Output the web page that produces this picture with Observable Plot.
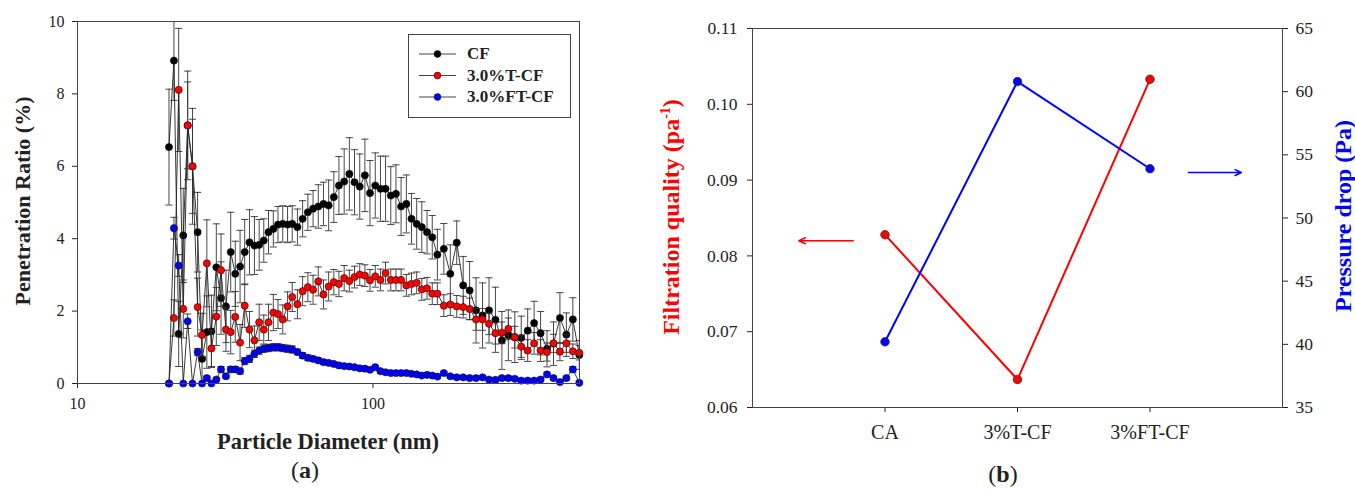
<!DOCTYPE html>
<html>
<head>
<meta charset="utf-8">
<script src="https://cdn.jsdelivr.net/npm/d3@7"></script>
<script src="https://cdn.jsdelivr.net/npm/@observablehq/plot@0.6"></script>
<style>
  body { margin: 0; background: #fff; }
  #wrap { position: relative; width: 1355px; height: 490px; background: #fff; font-family: "Liberation Serif", "Times New Roman", serif; color: #222; overflow: hidden; }
  #wrap svg text { font-family: "Liberation Serif", "Times New Roman", serif !important; font-size: 16px !important; fill: #222; }
  #right1 svg text, #right2 svg text { font-size: 17.5px !important; }
  #right1 g[aria-label="x-axis tick label"] text { font-size: 20px !important; }
  .abs { position: absolute; }
  .lbl { position: absolute; white-space: nowrap; font-weight: bold; font-size: 22px; transform: translate(-50%, -50%); }
  .rot { transform: translate(-50%, -50%) rotate(-90deg); }
  .panel { position: absolute; white-space: nowrap; font-size: 24px; transform: translate(-50%, -50%); }
  #legend { position: absolute; left: 408px; top: 34px; width: 161px; height: 82px; border: 1px solid #444; background: #fff; }
  #legend .row { position: absolute; left: 58px; font-weight: bold; font-size: 17px; transform: translateY(-50%); white-space: nowrap; }
</style>
</head>
<body>
<div id="wrap">
  <div id="left" class="abs" style="left:0;top:0"></div>
  <div id="right1" class="abs" style="left:640px;top:0"></div>
  <div id="right2" class="abs" style="left:640px;top:0"></div>

  <div class="lbl rot" style="left:23px;top:201px">Penetration Ratio (%)</div>
  <div class="lbl" style="left:328px;top:442px;font-size:22.5px">Particle Diameter (nm)</div>
  <div class="panel" style="left:305px;top:470px">(<b>a</b>)</div>

  <div class="lbl rot" style="left:671px;top:217px;color:#ff0000;font-size:24px">Filtration quality (pa<sup style="font-size:14px">-1</sup>)</div>
  <div class="lbl rot" style="left:1343px;top:216px;color:#0000ff;font-size:24px">Pressure drop (Pa)</div>
  <div class="panel" style="left:1003px;top:474px">(<b>b</b>)</div>

  <div id="legend">
    <svg width="161" height="82" style="position:absolute;left:0;top:0">
      <g id="legendMarks"></g>
    </svg>
  </div>
</div>
<script>
// ---- Panel (a): particle penetration vs. mobility diameter ----
const diameter = [
  20.4, 21.2, 22.0, 22.8, 23.6, 24.5, 25.5, 26.4, 27.4, 28.4,
  29.5, 30.6, 31.8, 33.0, 34.2, 35.5, 36.8, 38.2, 39.7, 41.2,
  42.7, 44.3, 46.0, 47.7, 49.5, 51.4, 53.3, 55.5, 57.8, 60.2,
  62.7, 65.3, 68.0, 70.8, 73.7, 76.7, 79.9, 83.2, 86.6, 90.2,
  93.9, 97.7, 101.8, 106.0, 110.3, 114.9, 119.6, 124.5, 129.7, 135.0,
  140.6, 146.3, 152.4, 158.7, 165.2, 173.7, 182.7, 192.1, 202.0, 212.4,
  223.3, 234.9, 247.0, 259.7, 273.1, 287.2, 302.0, 317.5, 333.9, 351.1,
  369.2, 388.2, 408.3, 429.3, 451.4, 474.7, 499.2
];

const cf = [
  6.53, 8.92, 1.37, 4.09, 7.13, 6.00, 4.18, 0.68, 1.42, 1.44,
  3.21, 2.36, 2.13, 3.63, 3.03, 3.23, 3.63, 3.90, 3.81, 3.83,
  3.95, 4.18, 4.27, 4.39, 4.41, 4.39, 4.41, 4.32, 4.55, 4.73,
  4.83, 4.89, 4.96, 4.92, 5.15, 5.47, 5.58, 5.79, 5.56, 5.44,
  5.75, 5.26, 5.47, 5.38, 5.38, 5.19, 5.24, 4.89, 4.96, 4.55,
  4.41, 4.32, 4.18, 4.04, 3.56, 3.72, 3.03, 3.89, 2.71, 2.57,
  2.02, 1.88, 2.02, 1.76, 1.19, 1.33, 1.28, 1.26, 1.46, 1.67,
  1.39, 0.96, 1.10, 1.81, 1.35, 1.77, 0.79
];
const cfErr = [
  1.6, 1.1, 0.9, 1.3, 1.5, 1.3, 1.1, 0.8, 1.0, 1.0,
  1.2, 1.0, 1.0, 1.1, 0.9, 1.0, 0.9, 0.9, 0.8, 0.7,
  0.6, 0.6, 0.5, 0.5, 0.5, 0.5, 0.5, 0.5, 0.5, 0.5,
  0.5, 0.6, 0.6, 0.7, 0.7, 0.8, 0.9, 1.0, 0.9, 0.9,
  1.0, 0.9, 0.9, 0.9, 0.9, 0.8, 0.8, 0.8, 0.8, 0.7,
  0.7, 0.7, 0.6, 0.6, 0.7, 0.7, 0.8, 0.6, 0.8, 0.8,
  0.9, 0.9, 0.9, 0.9, 0.8, 0.7, 0.7, 0.6, 0.6, 0.6,
  0.6, 0.5, 0.6, 0.7, 0.6, 0.6, 0.4
];

const tcf = [
  0.00, 1.81, 8.11, 2.06, 7.13, 6.00, 2.11, 1.34, 3.32, 0.97,
  1.85, 3.13, 1.49, 1.42, 1.84, 1.13, 2.15, 1.49, 1.19, 1.69,
  1.49, 1.69, 1.96, 1.92, 1.77, 2.13, 2.39, 2.19, 2.55, 2.66,
  2.59, 2.82, 2.46, 2.68, 2.80, 2.75, 2.91, 2.83, 2.94, 3.01,
  2.98, 2.85, 2.96, 2.86, 3.05, 2.86, 2.86, 2.86, 2.71, 2.75,
  2.78, 2.60, 2.63, 2.48, 2.48, 2.15, 2.18, 2.13, 2.11, 2.06,
  1.77, 1.77, 1.65, 1.39, 1.40, 1.51, 1.28, 1.02, 0.91, 1.11,
  0.91, 0.87, 1.11, 0.88, 1.11, 0.89, 0.85
];
const tcfErr = [
  0.0, 0.5, 1.7, 0.8, 1.2, 1.6, 0.8, 0.6, 1.2, 0.5,
  0.8, 1.0, 0.6, 0.6, 0.7, 0.5, 0.6, 0.5, 0.4, 0.5,
  0.4, 0.5, 0.5, 0.4, 0.4, 0.4, 0.4, 0.4, 0.4, 0.4,
  0.4, 0.4, 0.4, 0.4, 0.35, 0.35, 0.35, 0.3, 0.3, 0.3,
  0.3, 0.3, 0.3, 0.3, 0.3, 0.3, 0.3, 0.3, 0.3, 0.3,
  0.3, 0.3, 0.3, 0.3, 0.3, 0.3, 0.3, 0.3, 0.3, 0.3,
  0.3, 0.3, 0.3, 0.3, 0.3, 0.3, 0.3, 0.3, 0.3, 0.3,
  0.3, 0.25, 0.25, 0.25, 0.25, 0.2, 0.2
];

const ftcf = [
  0.00, 4.29, 3.26, 0.00, 1.72, 0.00, 0.87, 0.00, 0.15, 0.00,
  0.11, 0.39, 0.20, 0.39, 0.39, 0.34, 0.62, 0.68, 0.82, 0.91,
  0.96, 0.98, 1.00, 1.00, 0.98, 0.96, 0.94, 0.87, 0.77, 0.71,
  0.68, 0.64, 0.59, 0.57, 0.54, 0.50, 0.48, 0.47, 0.45, 0.42,
  0.41, 0.38, 0.45, 0.34, 0.31, 0.29, 0.29, 0.29, 0.29, 0.27,
  0.25, 0.22, 0.24, 0.22, 0.19, 0.29, 0.20, 0.17, 0.17, 0.15,
  0.15, 0.17, 0.11, 0.10, 0.15, 0.15, 0.13, 0.08, 0.08, 0.08,
  0.11, 0.25, 0.15, 0.04, 0.15, 0.39, 0.02
];
const ftcfErr = [
  0.0, 0.3, 0.3, 0.0, 0.2, 0.0, 0.1, 0.0, 0.05, 0.0,
  0.05, 0.08, 0.06, 0.08, 0.08, 0.08, 0.1, 0.1, 0.1, 0.1,
  0.1, 0.1, 0.1, 0.1, 0.1, 0.1, 0.1, 0.08, 0.08, 0.08,
  0.07, 0.07, 0.06, 0.06, 0.06, 0.06, 0.05, 0.05, 0.05, 0.05,
  0.05, 0.05, 0.05, 0.05, 0.05, 0.05, 0.05, 0.05, 0.05, 0.05,
  0.05, 0.05, 0.05, 0.05, 0.05, 0.05, 0.05, 0.05, 0.05, 0.05,
  0.05, 0.05, 0.05, 0.05, 0.05, 0.05, 0.05, 0.05, 0.05, 0.05,
  0.05, 0.06, 0.05, 0.05, 0.05, 0.08, 0.05
];

const seriesNames = ["CF", "3.0%T-CF", "3.0%FT-CF"];
const seriesColors = ["#000000", "#ff0000", "#0000ff"];
const seriesValues = [cf, tcf, ftcf];
const seriesErrors = [cfErr, tcfErr, ftcfErr];

// ---- Panel (b): filtration quality and pressure drop per filter ----
const filters = ["CA", "3%T-CF", "3%FT-CF"];
const quality = [0.0828, 0.0637, 0.1033];   // Pa^-1
const pressure = [40.2, 60.8, 53.9];        // Pa

// arrows pointing to each series' own axis
const qualityArrow = [{x1: 0.76, x2: 0.35, y: 0.0820}];
const pressureArrow = [{x1: 3.29, x2: 3.69, y: 53.6}];

// horizontal cap drawn as a dot symbol for the error bars
const capSymbol = {
  draw(context, size) {
    const w = Math.sqrt(size / Math.PI);
    context.moveTo(-w, 0);
    context.lineTo(w, 0);
  }
};

const axisStyle = {
  fontFamily: "'Liberation Serif', 'Times New Roman', serif",
  fontSize: "16px",
  color: "#222",
  background: "transparent",
  overflow: "visible"
};

// Panel (a)
const seriesMarks = seriesNames.flatMap((name, k) => {
  const rows = diameter.map((d, i) => ({
    d, v: seriesValues[k][i], lo: seriesValues[k][i] - seriesErrors[k][i], hi: seriesValues[k][i] + seriesErrors[k][i]
  }));
  const bars = rows.filter(r => r.hi > r.lo);
  return [
    Plot.ruleX(bars, {x: "d", y1: "lo", y2: "hi", stroke: "#333", strokeWidth: 0.9, clip: true}),
    Plot.dot(bars, {x: "d", y: "hi", symbol: capSymbol, r: 3.6, fill: "none", stroke: "#333", strokeWidth: 0.9, clip: true}),
    Plot.dot(bars, {x: "d", y: "lo", symbol: capSymbol, r: 3.6, fill: "none", stroke: "#333", strokeWidth: 0.9, clip: true}),
    Plot.line(rows, {x: "d", y: "v", stroke: "#222", strokeWidth: 0.9}),
    Plot.dot(rows, {x: "d", y: "v", r: 3.6, fill: seriesColors[k], stroke: "#111", strokeWidth: 0.6})
  ];
});

const left = Plot.plot({
  width: 600,
  height: 420,
  marginLeft: 77,
  marginRight: 21,
  marginTop: 21,
  marginBottom: 37,
  style: axisStyle,
  x: {type: "log", domain: [10, 500], ticks: [10, 100], tickFormat: d => String(d), tickSize: 5, tickPadding: 9, label: null},
  y: {domain: [0, 10], ticks: [0, 2, 4, 6, 8, 10], tickSize: 5, tickPadding: 8, label: null},
  marks: [
    ...seriesMarks,
    Plot.frame({stroke: "#444", strokeWidth: 1})
  ]
});
document.getElementById("left").appendChild(left);

// Panel (b): left axis (filtration quality) with the category axis
const rightSize = {width: 715, height: 440, marginLeft: 112, marginRight: 73, marginTop: 28, marginBottom: 33};
const qualityRows = filters.map((f, i) => ({x: i + 1, v: quality[i]}));
const pressureRows = filters.map((f, i) => ({x: i + 1, v: pressure[i]}));

const right1 = Plot.plot({
  ...rightSize,
  style: axisStyle,
  x: {domain: [0, 4], ticks: [1, 2, 3], tickFormat: i => filters[i - 1], tickSize: 5, tickPadding: 12, label: null},
  y: {domain: [0.06, 0.11], ticks: [0.06, 0.07, 0.08, 0.09, 0.10, 0.11], tickFormat: d3.format(".2f"), tickSize: 5, tickPadding: 10, label: null},
  marks: [
    Plot.frame({stroke: "#444", strokeWidth: 1}),
    Plot.line(qualityRows, {x: "x", y: "v", stroke: "#ff0000", strokeWidth: 2}),
    Plot.dot(qualityRows, {x: "x", y: "v", r: 4.3, fill: "#ff0000", stroke: "#333", strokeWidth: 0.8}),
    Plot.arrow(qualityArrow, {x1: "x1", x2: "x2", y1: "y", y2: "y", stroke: "#ff0000", strokeWidth: 1.5, headLength: 7, headAngle: 50})
  ]
});
document.getElementById("right1").appendChild(right1);

// Panel (b): right axis (pressure drop), overlaid on the same frame
const right2 = Plot.plot({
  ...rightSize,
  style: axisStyle,
  x: {domain: [0, 4], axis: null},
  y: {domain: [35, 65], ticks: [35, 40, 45, 50, 55, 60, 65], axis: "right", tickSize: 5, tickPadding: 8, label: null},
  marks: [
    Plot.line(pressureRows, {x: "x", y: "v", stroke: "#0000ff", strokeWidth: 2}),
    Plot.dot(pressureRows, {x: "x", y: "v", r: 4.3, fill: "#0000ff", stroke: "#333", strokeWidth: 0.8}),
    Plot.arrow(pressureArrow, {x1: "x1", x2: "x2", y1: "y", y2: "y", stroke: "#0000ff", strokeWidth: 1.5, headLength: 7, headAngle: 50})
  ]
});
document.getElementById("right2").appendChild(right2);

// Legend entries for panel (a)
const legendRows = [19, 40.5, 62];
const lg = d3.select("#legendMarks");
seriesNames.forEach((name, k) => {
  const y = legendRows[k];
  lg.append("line").attr("x1", 10).attr("x2", 47).attr("y1", y).attr("y2", y).attr("stroke", "#444").attr("stroke-width", 1);
  lg.append("circle").attr("cx", 28.5).attr("cy", y).attr("r", 3.4).attr("fill", seriesColors[k]).attr("stroke", "#111").attr("stroke-width", 0.6);
  d3.select("#legend").append("div").attr("class", "row").style("top", y + "px").text(name);
});
</script>
</body>
</html>
